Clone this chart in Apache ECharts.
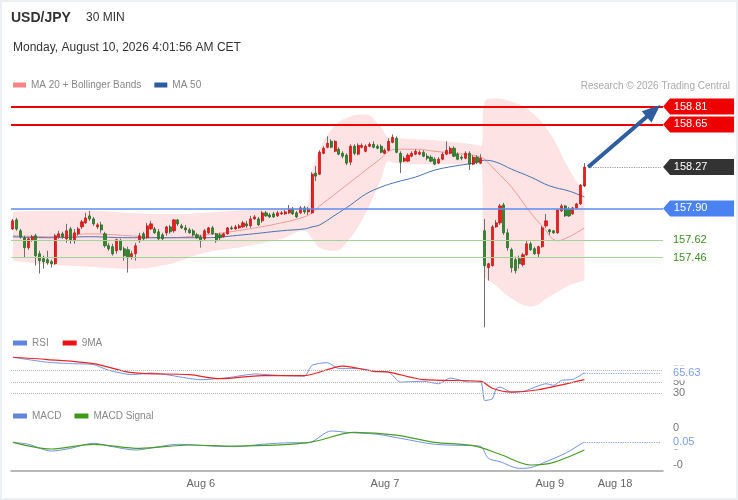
<!DOCTYPE html>
<html>
<head>
<meta charset="utf-8">
<script src="https://cdn.jsdelivr.net/npm/echarts@6/dist/echarts.min.js"></script>
<style>
  html, body { margin: 0; padding: 0; background: #fff; }
  #chart { width: 738px; height: 500px; }
  #frame { position: absolute; left: 0; top: 0; width: 738px; height: 500px; box-sizing: border-box; border: 2px solid #edf0f3; pointer-events: none; }
</style>
</head>
<body>
<div id="chart"></div>
<div id="frame"></div>
<script>
// USD/JPY 30 min candles
var opens = [
  157.717,157.797,157.700,157.638,157.549,157.620,157.656,157.495,157.451,157.442,
  157.424,157.406,157.647,157.673,157.629,157.717,157.611,157.673,157.735,157.771,
  157.833,157.806,157.735,157.753,157.673,157.567,157.558,157.522,157.611,157.540,
  157.531,157.469,157.495,157.611,157.673,157.638,157.717,157.717,157.691,157.664,
  157.682,157.735,157.700,157.797,157.744,157.726,157.708,157.700,157.664,157.647,
  157.629,157.682,157.726,157.673,157.664,157.647,157.673,157.726,157.717,157.726,
  157.735,157.762,157.744,157.806,157.806,157.789,157.860,157.842,157.851,157.833,
  157.851,157.851,157.860,157.895,157.860,157.860,157.904,157.869,157.860,158.215,
  158.206,158.392,158.446,158.499,158.410,158.428,158.392,158.375,158.313,158.455,
  158.384,158.446,158.410,158.455,158.472,158.455,158.455,158.392,158.419,158.490,
  158.526,158.392,158.322,158.322,158.366,158.384,158.384,158.401,158.366,158.357,
  158.339,158.304,158.339,158.384,158.392,158.437,158.384,158.357,158.348,158.392,
  158.295,158.357,158.304,157.700,157.371,157.389,157.735,157.771,157.931,157.682,
  157.531,157.442,157.451,157.397,157.486,157.584,157.540,157.495,157.558,157.744,
  157.708,157.700,157.682,157.878,157.922,157.895,157.851,157.904,157.940,158.100
];
var closes = [
  157.789,157.717,157.647,157.549,157.629,157.647,157.478,157.433,157.424,157.415,
  157.406,157.656,157.673,157.647,157.700,157.620,157.682,157.717,157.780,157.815,
  157.806,157.762,157.753,157.708,157.567,157.540,157.495,157.620,157.531,157.478,
  157.460,157.495,157.567,157.656,157.629,157.744,157.762,157.682,157.629,157.629,
  157.735,157.691,157.797,157.762,157.726,157.708,157.682,157.664,157.638,157.611,
  157.700,157.726,157.673,157.611,157.638,157.673,157.726,157.717,157.735,157.744,
  157.771,157.744,157.806,157.824,157.753,157.860,157.833,157.824,157.824,157.860,
  157.860,157.869,157.895,157.851,157.824,157.904,157.869,157.895,158.206,158.188,
  158.401,158.437,158.481,158.446,158.499,158.384,158.366,158.304,158.455,158.392,
  158.463,158.463,158.455,158.472,158.446,158.437,158.401,158.419,158.499,158.535,
  158.401,158.313,158.348,158.375,158.392,158.410,158.401,158.366,158.348,158.322,
  158.295,158.339,158.384,158.419,158.437,158.366,158.339,158.348,158.392,158.295,
  158.357,158.313,158.348,157.389,157.406,157.735,157.771,157.922,157.682,157.549,
  157.371,157.345,157.406,157.486,157.584,157.531,157.495,157.558,157.726,157.789,
  157.691,157.682,157.886,157.922,157.833,157.833,157.904,157.940,158.108,158.268
];
var lows = [
  157.708,157.700,157.629,157.460,157.531,157.602,157.389,157.318,157.362,157.397,
  157.371,157.397,157.629,157.629,157.593,157.584,157.584,157.656,157.717,157.762,
  157.789,157.744,157.717,157.682,157.549,157.522,157.478,157.495,157.522,157.433,
  157.327,157.442,157.433,157.593,157.611,157.629,157.708,157.673,157.611,157.611,
  157.656,157.673,157.682,157.744,157.717,157.682,157.673,157.647,157.629,157.549,
  157.611,157.673,157.664,157.593,157.611,157.638,157.664,157.708,157.708,157.717,
  157.726,157.726,157.726,157.797,157.744,157.771,157.824,157.815,157.815,157.824,
  157.842,157.842,157.851,157.842,157.815,157.851,157.851,157.842,157.851,158.144,
  158.197,158.384,158.437,158.437,158.401,158.375,158.348,158.286,158.286,158.375,
  158.375,158.437,158.401,158.446,158.437,158.428,158.392,158.384,158.410,158.481,
  158.392,158.215,158.313,158.313,158.357,158.375,158.375,158.357,158.330,158.313,
  158.286,158.295,158.330,158.375,158.384,158.357,158.330,158.330,158.339,158.242,
  158.286,158.295,158.295,156.838,157.256,157.380,157.726,157.753,157.664,157.522,
  157.327,157.318,157.362,157.380,157.478,157.522,157.486,157.460,157.549,157.726,
  157.664,157.673,157.673,157.869,157.824,157.824,157.842,157.895,157.931,158.091
];
var highs = [
  157.806,157.815,157.717,157.656,157.647,157.664,157.673,157.522,157.478,157.522,
  157.442,157.673,157.700,157.691,157.762,157.735,157.717,157.735,157.797,157.860,
  157.878,157.824,157.771,157.780,157.691,157.593,157.584,157.629,157.629,157.558,
  157.558,157.522,157.593,157.682,157.691,157.771,157.789,157.735,157.717,157.682,
  157.744,157.753,157.806,157.806,157.762,157.753,157.726,157.717,157.682,157.664,
  157.717,157.735,157.744,157.682,157.682,157.682,157.735,157.744,157.753,157.762,
  157.789,157.789,157.833,157.842,157.824,157.878,157.878,157.860,157.869,157.878,
  157.878,157.886,157.931,157.913,157.878,157.922,157.922,157.913,158.224,158.277,
  158.419,158.455,158.544,158.517,158.508,158.446,158.410,158.392,158.472,158.472,
  158.481,158.481,158.472,158.490,158.499,158.472,158.472,158.437,158.526,158.561,
  158.544,158.410,158.366,158.392,158.410,158.428,158.419,158.419,158.392,158.375,
  158.357,158.357,158.401,158.499,158.455,158.455,158.401,158.375,158.410,158.410,
  158.375,158.375,158.384,157.806,157.415,157.753,157.797,157.940,157.949,157.717,
  157.549,157.469,157.478,157.504,157.611,157.602,157.558,157.567,157.744,157.851,
  157.717,157.708,157.895,157.940,157.931,157.913,157.913,157.949,158.117,158.304
];

// indicator lines, [candle index, value]
var bbUpper = [[0,157.869],[10,157.878],[20,157.878],[30,157.860],[40,157.851],[50,157.860],[60,157.886],[70,157.904],[76,157.913],[78,158.215],[80,158.428],[84,158.641],[88,158.721],[92,158.739],[96,158.623],[98,158.535],[100,158.526],[105,158.517],[110,158.508],[115,158.490],[120,158.472],[122,158.455],[123,158.854],[126,158.881],[130,158.854],[135,158.766],[140,158.570],[145,158.250],[149,158.037]];
var bbLower = [[0,157.433],[10,157.397],[20,157.380],[30,157.362],[40,157.397],[50,157.504],[60,157.558],[70,157.629],[76,157.700],[78,157.629],[80,157.549],[84,157.522],[88,157.638],[92,157.860],[96,158.162],[98,158.322],[100,158.304],[105,158.295],[110,158.295],[115,158.295],[120,158.295],[122,158.295],[123,157.300],[126,157.211],[130,157.096],[135,157.025],[140,157.114],[145,157.211],[149,157.256]];
var ma20 = [[0,157.656],[10,157.647],[20,157.673],[30,157.656],[40,157.638],[50,157.664],[60,157.708],[70,157.771],[76,157.824],[78,157.860],[80,157.922],[84,158.028],[88,158.135],[92,158.242],[96,158.348],[98,158.410],[100,158.428],[105,158.428],[110,158.410],[115,158.392],[120,158.375],[122,158.357],[123,158.339],[126,158.233],[130,158.091],[135,157.860],[138,157.744],[142,157.611],[145,157.647],[149,157.726]];
var ma50 = [[0,157.647],[10,157.638],[20,157.647],[30,157.638],[40,157.638],[50,157.638],[60,157.664],[70,157.700],[76,157.717],[78,157.735],[80,157.753],[84,157.840],[88,157.930],[92,158.028],[96,158.091],[100,158.135],[105,158.180],[110,158.242],[115,158.277],[120,158.304],[123,158.330],[126,158.313],[130,158.250],[135,158.180],[140,158.100],[145,158.055],[149,158.002]];

var rsi = [[0,92.6],[9,84],[15,81.6],[21,80],[25,70],[31,62.5],[36,65.4],[40,62.5],[49,53.8],[56,57.3],[63,63.6],[70,61],[76,60],[78,78.7],[82,83.3],[85,73],[90,73],[95,68],[98,67],[101,49.6],[107,51],[111,46.8],[114,56.6],[119,49.6],[122,49.6],[123,17.8],[125,20.7],[126,38],[127,41],[130,32.3],[133,33.5],[135,38],[139,46.8],[141,44],[143,52.6],[146,54.3],[149,65.63]];
var rsiMa = [[0,92.6],[9,88.6],[21,81.6],[31,66],[46,62.5],[54,55.6],[65,61],[76,61],[86,77.4],[94,68.3],[98,67],[107,53.8],[122,51],[125,39],[130,32.3],[137,36.4],[149,53.8]];
var macd = [[0,0.045],[4,0.024],[10,-0.049],[15,-0.02],[21,0.035],[26,-0.002],[32,-0.038],[38,-0.002],[43,0.024],[52,0.005],[58,-0.002],[65,0.024],[73,0.041],[77,0.041],[83,0.168],[87,0.153],[95,0.132],[101,0.089],[110,0.024],[120,0.009],[122,0],[124,-0.128],[127,-0.164],[132,-0.236],[135,-0.229],[139,-0.164],[144,-0.074],[149,0.05]];
var macdSignal = [[0,0.045],[10,-0.027],[21,0.024],[33,-0.02],[46,0.016],[58,0.005],[77,0.041],[89,0.153],[100,0.124],[110,0.045],[120,0.009],[127,-0.084],[135,-0.2],[141,-0.171],[149,-0.038]];

// key levels
var resistances = [158.81, 158.65];
var pivot = 157.90;
var supports = [157.62, 157.46];
var lastPrice = 158.27;
var rsiLast = 65.63;
var macdLast = 0.05;

// x axis
var slotCount = 170;
var tickIndex = [49, 97, 140, 157];
var tickText = ['Aug 6', 'Aug 7', 'Aug 9', 'Aug 18'];

var slots = [];
for (var i = 0; i < slotCount; i++) slots.push(String(i));
var lastIdx = opens.length - 1;
var endIdx = slotCount - 1;

var wickData = opens.map(function (o, i) { return [o, closes[i], lows[i], highs[i]]; });
var bodyData = opens.map(function (o, i) { return [o, closes[i], Math.min(o, closes[i]), Math.max(o, closes[i])]; });
var bandWidth = bbUpper.map(function (p, i) { return [p[0], +(p[1] - bbLower[i][1]).toFixed(3)]; });

var tagPath = 'path://M0,8L7,0L71,0L71,16L7,16Z';
var font = 'Liberation Sans, Arial, sans-serif';

var myChart = echarts.init(document.getElementById('chart'));

var option = {
    animation: false,
    textStyle: { fontFamily: font },
    title: [
        { text: 'USD/JPY', left: 11, top: 11, padding: 0, textStyle: { fontSize: 14, fontWeight: 'bold', color: '#333' } },
        { text: '30 MIN', left: 86, top: 12, padding: 0, textStyle: { fontSize: 12, fontWeight: 'normal', color: '#333' } },
        { text: 'Monday, August 10, 2026 4:01:56 AM CET', left: 13, top: 42, padding: 0, textStyle: { fontSize: 12, fontWeight: 'normal', color: '#333' } },
        { text: 'Research © 2026 Trading Central', right: 8, top: 81, padding: 0, textStyle: { fontSize: 10, fontWeight: 'normal', color: '#aaa' } }
    ],
    legend: [
        { data: ['MA 20 + Bollinger Bands', 'MA 50'], left: 13, top: 80, padding: 0, icon: 'rect', itemWidth: 13, itemHeight: 5, itemGap: 13, selectedMode: false, textStyle: { color: '#888', fontSize: 10 } },
        { data: ['RSI', '9MA'], left: 13, top: 338, padding: 0, icon: 'rect', itemWidth: 14, itemHeight: 5, itemGap: 14, selectedMode: false, textStyle: { color: '#888', fontSize: 10 } },
        { data: ['MACD', 'MACD Signal'], left: 13, top: 411, padding: 0, icon: 'rect', itemWidth: 14, itemHeight: 5, itemGap: 13, selectedMode: false, textStyle: { color: '#888', fontSize: 10 } }
    ],
    grid: [
        { left: 11, right: 75, top: 96.4, height: 235.2, outerBoundsMode: 'none' },
        { left: 11, right: 75, top: 353, height: 52, outerBoundsMode: 'none' },
        { left: 11, right: 75, top: 422, height: 49, outerBoundsMode: 'none' }
    ],
    xAxis: [
        { type: 'category', gridIndex: 0, data: slots, show: false },
        { type: 'category', gridIndex: 1, data: slots, show: false },
        {
            type: 'category', gridIndex: 2, data: slots,
            axisLine: { onZero: false, lineStyle: { color: '#a3a3a3', width: 1.5 } },
            axisTick: { interval: function (i) { return i === 0; }, length: 5, lineStyle: { color: '#a3a3a3', width: 1.5 } },
            axisLabel: {
                interval: 0, color: '#666', fontSize: 11, margin: 7,
                formatter: function (v, i) { var k = tickIndex.indexOf(i); return k < 0 ? '' : tickText[k]; }
            },
            splitLine: { show: false }
        }
    ],
    yAxis: [
        { type: 'value', gridIndex: 0, min: 156.8, max: 158.9, show: false },
        {
            type: 'value', gridIndex: 1, min: 10, max: 100, position: 'right',
            axisLine: { show: false }, axisTick: { show: false }, splitLine: { show: false },
            axisLabel: { customValues: [70, 50, 30], color: '#777', fontSize: 11, margin: 10 }
        },
        {
            type: 'value', gridIndex: 2, min: -0.265, max: 0.265, position: 'right',
            axisLine: { show: false }, axisTick: { show: false }, splitLine: { show: false },
            axisLabel: { customValues: [0.2, 0, -0.2], color: '#777', fontSize: 11, margin: 10,
                formatter: function (v) { return v.toFixed(0); } }
        }
    ],
    series: [
        { name: 'bbBase', type: 'line', data: bbLower, stack: 'bb', symbol: 'none', smooth: 0.4, silent: true,
          lineStyle: { opacity: 0 }, z: 1 },
        { name: 'bbFill', type: 'line', data: bandWidth, stack: 'bb', symbol: 'none', smooth: 0.4, silent: true,
          lineStyle: { opacity: 0 }, areaStyle: { color: '#fde3e3', opacity: 1 }, z: 1 },
        { name: 'MA 20 + Bollinger Bands', type: 'line', data: ma20, symbol: 'none', smooth: 0.4, silent: true,
          itemStyle: { color: '#f78585' }, lineStyle: { color: '#f59a9a', width: 1 }, z: 2 },
        { name: 'MA 50', type: 'line', data: ma50, symbol: 'none', smooth: 0.4, silent: true,
          itemStyle: { color: '#2f5b9e' }, lineStyle: { color: '#4a72b2', width: 1 }, z: 2 },
        { name: 'wick', type: 'candlestick', data: wickData, barWidth: 1, silent: true,
          itemStyle: { color: '#707070', color0: '#707070', borderColor: '#707070', borderColor0: '#707070', borderWidth: 1 }, z: 3 },
        { name: 'body', type: 'candlestick', data: bodyData, barWidth: 2.6, silent: true,
          itemStyle: { color: '#f21b1b', color0: '#2d8a2d', borderColor: '#c90f0f', borderColor0: '#1f661f', borderWidth: 0.7 }, z: 4 },
        {
            name: 'levels', type: 'line', data: [], z: 5, silent: true,
            markLine: {
                silent: true, symbol: ['none', 'none'], animation: false,
                label: { show: false },
                data: [
                    { yAxis: resistances[0], lineStyle: { color: '#ee0000', width: 2, type: 'solid' } },
                    { yAxis: resistances[1], lineStyle: { color: '#ee0000', width: 2, type: 'solid' } },
                    { yAxis: pivot, lineStyle: { color: '#5b8ef0', width: 1.5, type: 'solid' } },
                    { yAxis: supports[0], lineStyle: { color: '#a5d395', width: 1.2, type: 'solid' },
                      label: { show: true, position: 'end', distance: 10, formatter: supports[0].toFixed(2), color: '#3f8f22', fontSize: 11 } },
                    { yAxis: supports[1], lineStyle: { color: '#a5d395', width: 1.2, type: 'solid' },
                      label: { show: true, position: 'end', distance: 10, formatter: supports[1].toFixed(2), color: '#3f8f22', fontSize: 11 } },
                    [{ coord: [lastIdx + 1, lastPrice] },
                     { coord: [endIdx, lastPrice], lineStyle: { color: '#999', width: 1.2, type: 'dotted' } }],
                    [{ coord: [lastIdx + 1, lastPrice], symbol: 'none' },
                     { coord: [endIdx - 2, resistances[0] - 0.04], symbol: 'triangle', symbolSize: [15, 18],
                       lineStyle: { color: '#2e5e9f', width: 4, type: 'solid' }, itemStyle: { color: '#2e5e9f' } }]
                ]
            },
            markPoint: {
                silent: true, symbol: tagPath, symbolSize: [71, 16], symbolOffset: [37.5, 0], animation: false,
                label: { show: true, position: 'inside', color: '#fff', fontSize: 11, offset: [-8, 0], formatter: '{b}' },
                data: [
                    { name: resistances[0].toFixed(2), coord: [endIdx, resistances[0]], itemStyle: { color: '#ee0000' } },
                    { name: resistances[1].toFixed(2), coord: [endIdx, resistances[1]], itemStyle: { color: '#ee0000' } },
                    { name: lastPrice.toFixed(2), coord: [endIdx, lastPrice], itemStyle: { color: '#333333' } },
                    { name: pivot.toFixed(2), coord: [endIdx, pivot], itemStyle: { color: '#4a82f2' } }
                ]
            }
        },
        {
            name: 'RSI', type: 'line', xAxisIndex: 1, yAxisIndex: 1, data: rsi, symbol: 'none', smooth: 0.2, silent: true,
            itemStyle: { color: '#5f86dc' }, lineStyle: { color: '#6f93e2', width: 1 }, z: 3,
            markLine: {
                silent: true, symbol: ['none', 'none'], animation: false, label: { show: false },
                lineStyle: { color: '#bbb', width: 1, type: 'dotted' },
                data: [
                    { yAxis: 70 }, { yAxis: 50 }, { yAxis: 30 },
                    [{ coord: [lastIdx, rsiLast] },
                     { coord: [endIdx, rsiLast], lineStyle: { color: '#8aa8ea', width: 1.2, type: 'dotted' },
                       label: { show: true, position: 'end', distance: 10, formatter: rsiLast.toFixed(2), color: '#7b9de8', fontSize: 11,
                                backgroundColor: '#fff', padding: [3, 2, 1, 2] } }]
                ]
            }
        },
        { name: '9MA', type: 'line', xAxisIndex: 1, yAxisIndex: 1, data: rsiMa, symbol: 'none', smooth: 0.3, silent: true,
          itemStyle: { color: '#ee1111' }, lineStyle: { color: '#ee2222', width: 1.2 }, z: 4 },
        {
            name: 'MACD', type: 'line', xAxisIndex: 2, yAxisIndex: 2, data: macd, symbol: 'none', smooth: 0.3, silent: true,
            itemStyle: { color: '#5f86dc' }, lineStyle: { color: '#6f93e2', width: 1 }, z: 3,
            markLine: {
                silent: true, symbol: ['none', 'none'], animation: false, label: { show: false },
                data: [
                    [{ coord: [lastIdx, macdLast] },
                     { coord: [endIdx, macdLast], lineStyle: { color: '#8aa8ea', width: 1.2, type: 'dotted' },
                       label: { show: true, position: 'end', distance: 10, formatter: macdLast.toFixed(2), color: '#7b9de8', fontSize: 11,
                                backgroundColor: '#fff', padding: [2, 2, 2, 2] } }]
                ]
            }
        },
        { name: 'MACD Signal', type: 'line', xAxisIndex: 2, yAxisIndex: 2, data: macdSignal, symbol: 'none', smooth: 0.3, silent: true,
          itemStyle: { color: '#3f9a1c' }, lineStyle: { color: '#4a9e25', width: 1.2 }, z: 3 }
    ]
};

myChart.setOption(option);
</script>
</body>
</html>
